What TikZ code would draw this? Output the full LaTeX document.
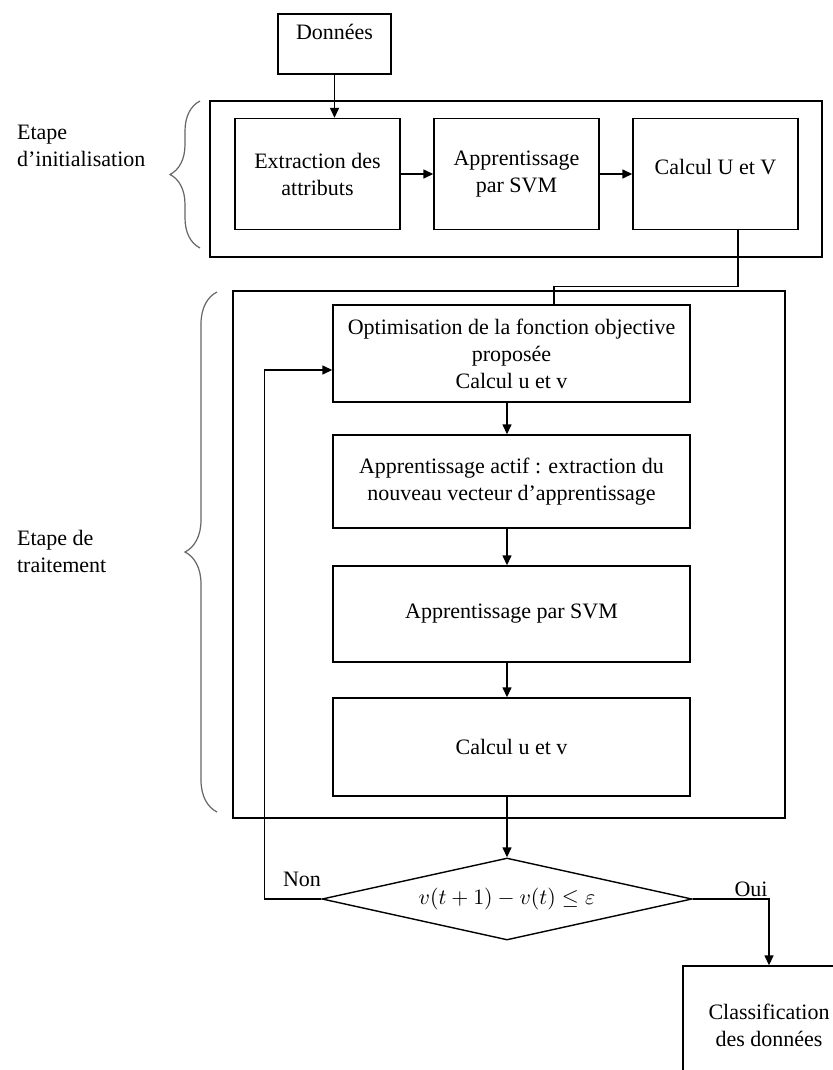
\documentclass[tikz,border=0pt]{standalone}
\usepackage{fontspec}
\setmainfont{Liberation Serif}
\usetikzlibrary{arrows.meta,shapes.geometric,decorations.pathreplacing,positioning}

\begin{document}
\begin{tikzpicture}[x=0.5pt,y=-0.5pt,>={Triangle[length=5pt,width=4.5pt]},
every node/.style={font=\fontsize{11pt}{13.5pt}\selectfont},
box/.style={draw,line width=0.7pt,rectangle,align=center,inner sep=2pt},
frame/.style={draw,line width=0.7pt,rectangle,inner sep=0pt},
link/.style={line width=0.7pt},
accol/.style={decorate,decoration={brace,amplitude=15pt},draw=black!60,line width=0.6pt}]
\clip (0,0) rectangle (833,1070);
% cadres des deux etapes
\node[frame,minimum width=306pt,minimum height=78pt] (init) at (516,179) {};
\node[frame,minimum width=276pt,minimum height=263.5pt] (trait) at (509,554.5) {};
\node[box,minimum width=56.5pt,minimum height=30pt,text height=8pt,text depth=12.4pt] (donnees) at (334.5,44) {Données};
\node[box,minimum width=82.5pt,minimum height=55.5pt] (extraction) at (317.5,174) {Extraction des\\attributs};
\node[box,minimum width=82.5pt,minimum height=55.5pt] (apprsvm) at (516.5,174) {Apprentissage\\par SVM};
\node[box,minimum width=82.5pt,minimum height=55.5pt,text height=8pt,text depth=8pt] (calcUV) at (715.5,174) {Calcul U et V};
% boucle de traitement
\node[box,minimum width=178.5pt,minimum height=48.5pt] (opt) at (511.5,353.5) {Optimisation de la fonction objective\\proposée\\Calcul u et v};
\node[box,minimum width=178.5pt,minimum height=46.5pt] (actif) at (511.5,481.5) {Apprentissage actif : extraction du\\nouveau vecteur d’apprentissage};
\node[box,minimum width=178.5pt,minimum height=48pt] (svm) at (511.5,614) {Apprentissage par SVM};
\node[box,minimum width=178.5pt,minimum height=49pt] (calc) at (511.5,747) {Calcul u et v};
\node[draw,diamond,aspect=4.5,minimum width=185pt,minimum height=41pt,inner sep=0pt,line width=0.7pt] (test) at (507,899) {$v(t+1)-v(t)\leq\varepsilon$};
\node[box,minimum width=86pt,minimum height=59pt] (classif) at (769,1025) {Classification\\des données};
\node (non) at (302,879) {Non};
\node (oui) at (751,889) {Oui};
\node[align=left,anchor=west] (etinit) at (10,146) {Etape\\d’initialisation};
\node[align=left,anchor=west] (ettrait) at (10,551) {Etape de\\traitement};

\draw[link,->] (donnees) -- (donnees |- extraction.north);
\draw[link,->] (extraction) -- (apprsvm);
\draw[link,->] (apprsvm) -- (calcUV);
\draw[link] ([xshift=11.25pt]calcUV.south) -- ++(0,56) -| ([xshift=21.25pt]opt.north);
\draw[link,->] (opt.south -| test) -- (actif.north -| test);
\draw[link,->] (actif.south -| test) -- (svm.north -| test);
\draw[link,->] (svm.south -| test) -- (calc.north -| test);
\draw[link,->] (calc.south -| test) -- (test.north);
\draw[link,->] (test.west) -- ++(-57,0) |- ([yshift=-8.25pt]opt.west);
\draw[link,->] (test.east) -| (classif.north);
\draw[accol] (200,248) -- (200,101);
\draw[accol,decoration={brace,amplitude=16pt}] (217,812) -- (217,292);
\end{tikzpicture}
\end{document}
